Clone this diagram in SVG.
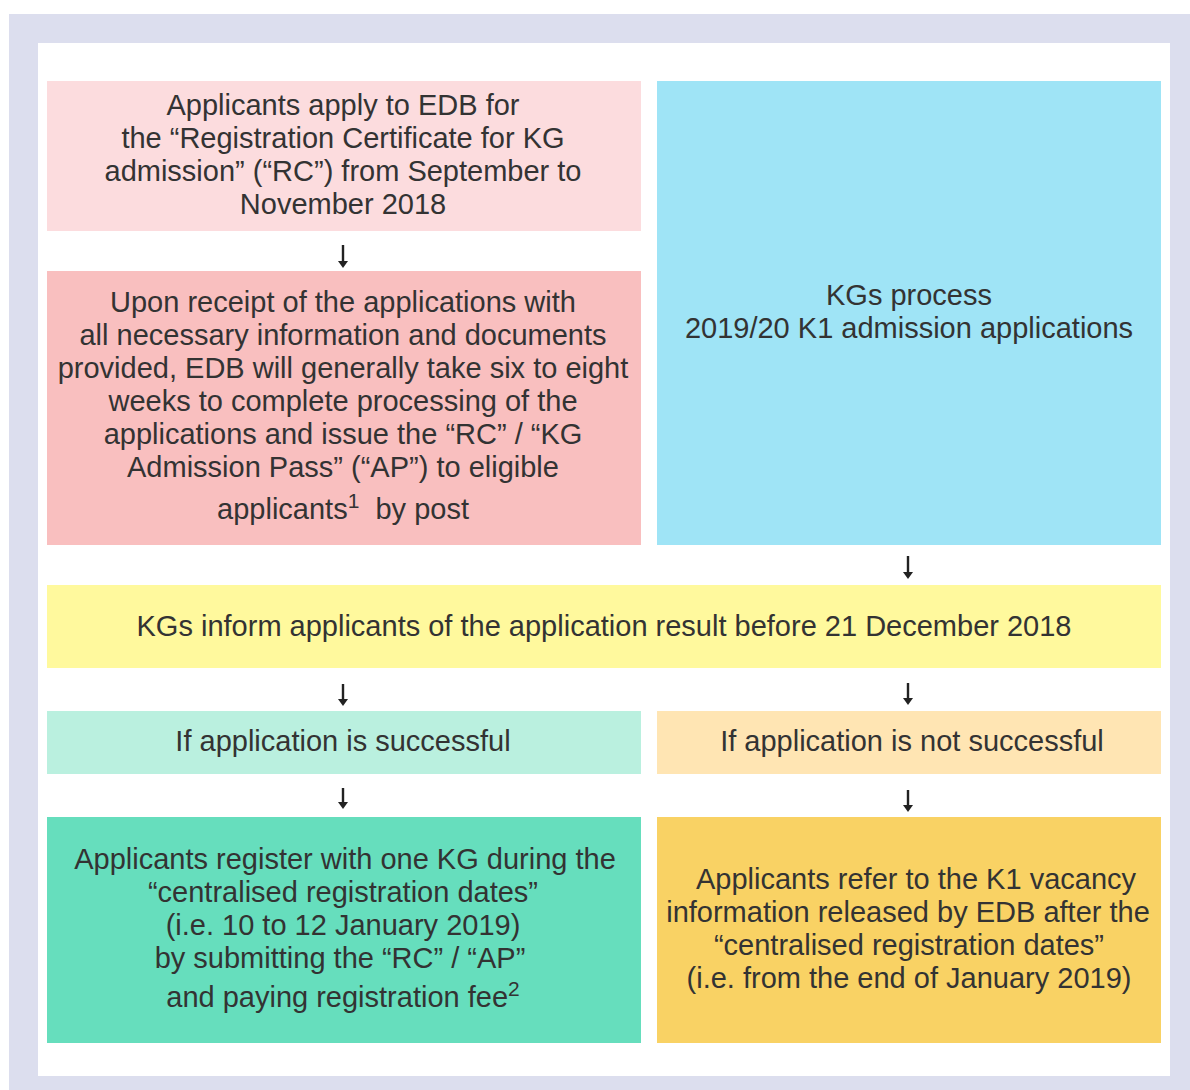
<svg xmlns="http://www.w3.org/2000/svg" width="1190" height="1090" viewBox="0 0 1190 1090">
<defs>
<style>
text{font-family:"Liberation Sans",Arial,sans-serif;font-size:29px;fill:#333;text-anchor:middle}
.sup{font-size:21px}
.arr{stroke:#222;stroke-width:2.4;fill:none}
</style>
<marker id="ah" viewBox="0 0 8 10" refX="1" refY="5" markerWidth="8" markerHeight="10" markerUnits="userSpaceOnUse" orient="auto">
<path d="M0,0 L7,5 L0,10 Z" fill="#222"/>
</marker>
</defs>
<rect x="9" y="14" width="1181" height="1076" fill="#DCDEEE"/>
<rect x="38" y="43" width="1132" height="1033" fill="#FFFFFF"/>
<g id="n1">
<rect x="47" y="81" width="594" height="150" fill="#FCDCDE"/>
<text x="343" y="115">Applicants apply to EDB for</text>
<text x="343" y="148">the “Registration Certificate for KG</text>
<text x="343" y="181">admission” (“RC”) from September to</text>
<text x="343" y="214">November 2018</text>
</g>
<g id="n2">
<rect x="47" y="271" width="594" height="274" fill="#F9BFBF"/>
<text x="343" y="312">Upon receipt of the applications with</text>
<text x="343" y="345">all necessary information and documents</text>
<text x="343" y="378">provided, EDB will generally take six to eight</text>
<text x="343" y="411">weeks to complete processing of the</text>
<text x="343" y="444">applications and issue the “RC” / “KG</text>
<text x="343" y="477">Admission Pass” (“AP”) to eligible</text>
<text x="343" y="519" xml:space="preserve">applicants<tspan class="sup" dy="-11">1</tspan><tspan dy="11">  by post</tspan></text>
</g>
<g id="n3">
<rect x="657" y="81" width="504" height="464" fill="#9FE4F6"/>
<text x="909" y="305">KGs process</text>
<text x="909" y="338">2019/20 K1 admission applications</text>
</g>
<g id="n4">
<rect x="47" y="585" width="1114" height="83" fill="#FFF99D"/>
<text x="604" y="636">KGs inform applicants of the application result before 21 December 2018</text>
</g>
<g id="n5">
<rect x="47" y="711" width="594" height="63" fill="#BAF0DF"/>
<text x="343" y="751">If application is successful</text>
</g>
<g id="n6">
<rect x="657" y="711" width="504" height="63" fill="#FFE5B3"/>
<text x="912" y="751">If application is not successful</text>
</g>
<g id="n7">
<rect x="47" y="817" width="594" height="226" fill="#66DEBD"/>
<text x="345" y="869">Applicants register with one KG during the</text>
<text x="343" y="902">“centralised registration dates”</text>
<text x="343" y="935">(i.e. 10 to 12 January 2019)</text>
<text x="340" y="968">by submitting the “RC” / “AP”</text>
<text x="343" y="1007">and paying registration fee<tspan class="sup" dy="-11">2</tspan></text>
</g>
<g id="n8">
<rect x="657" y="817" width="504" height="226" fill="#F9D264"/>
<text x="916" y="889">Applicants refer to the K1 vacancy</text>
<text x="908" y="922">information released by EDB after the</text>
<text x="909" y="955">“centralised registration dates”</text>
<text x="909" y="988">(i.e. from the end of January 2019)</text>
</g>
<g id="connectors">
<line class="arr" x1="343" y1="245" x2="343" y2="262" marker-end="url(#ah)"/>
<line class="arr" x1="908" y1="556" x2="908" y2="573" marker-end="url(#ah)"/>
<line class="arr" x1="343" y1="684" x2="343" y2="700" marker-end="url(#ah)"/>
<line class="arr" x1="908" y1="683" x2="908" y2="699" marker-end="url(#ah)"/>
<line class="arr" x1="343" y1="788" x2="343" y2="803" marker-end="url(#ah)"/>
<line class="arr" x1="908" y1="790" x2="908" y2="806" marker-end="url(#ah)"/>
</g>
</svg>
